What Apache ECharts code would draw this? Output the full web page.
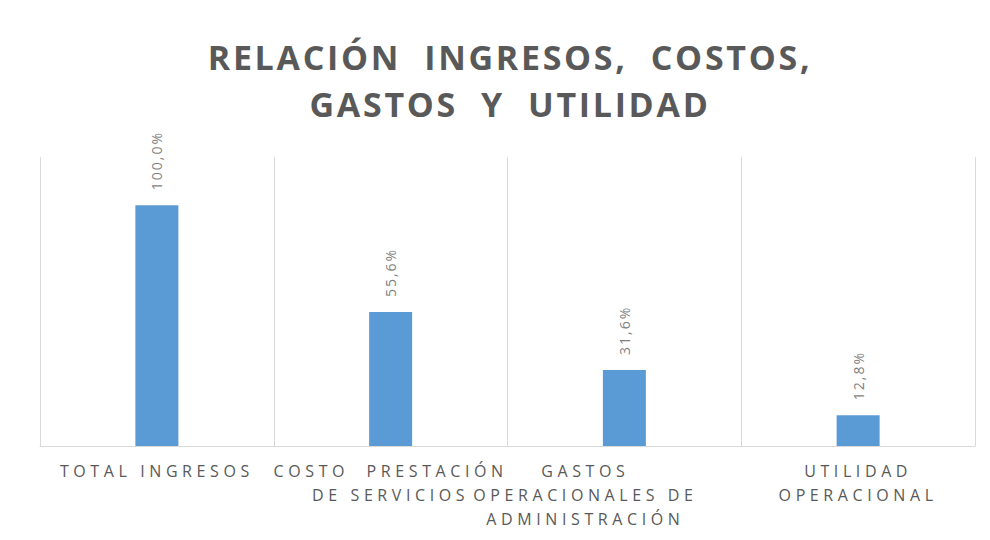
<!DOCTYPE html>
<html>
<head>
<meta charset="utf-8">
<script src="https://cdn.jsdelivr.net/npm/echarts@6/dist/echarts.min.js"></script>
<style>
  html, body { margin: 0; padding: 0; background: #fff; }
  #main { width: 990px; height: 540px; }
  /* espaciado de letras como en el original (solo funciona con render svg) */
  #main text[style*="ttl"], #main text[font-family*="ttl"] { letter-spacing: 2.7px; }
  #main text[style*="cat"], #main text[font-family*="cat"] { letter-spacing: 4.6px; }
  #main text[style*="val"], #main text[font-family*="val"] { letter-spacing: 2px; }
</style>
</head>
<body>
<div id="main"></div>
<script>
// datos
let categorias = [
  'TOTAL INGRESOS',
  'COSTO  PRESTACIÓN\nDE SERVICIOS',
  'GASTOS\nOPERACIONALES DE\nADMINISTRACIÓN',
  'UTILIDAD\nOPERACIONAL'
];
let porcentajes = [100.0, 55.6, 31.6, 12.8];
let titulo = 'RELACIÓN  INGRESOS,  COSTOS,\nGASTOS  Y  UTILIDAD';

let chart = echarts.init(document.getElementById('main'), null, { renderer: 'svg' });

let xdata = categorias.map(function (c, i) {
  if (i == 2) {
    // excel lo corre un poco a la izquierda
    return { value: c, textStyle: { padding: [0, 78, 0, 0] } };
  }
  return c;
});

const option = {
  backgroundColor: '#ffffff',
  animation: false,
  title: {
    text: titulo,
    left: 505,
    textAlign: 'center',
    top: 28,
    textStyle: {
      fontFamily: '"Open Sans", ttl',
      fontSize: 34,
      fontWeight: 'bold',
      color: '#595959',
      lineHeight: 47,
      align: 'center'
    }
  },
  grid: {
    left: 40,
    right: 15,
    top: 157,
    bottom: 94
  },
  xAxis: {
    type: 'category',
    data: xdata,
    axisLine: { lineStyle: { color: '#d9d9d9', width: 1 } },
    axisTick: { show: false },
    splitLine: { show: true, lineStyle: { color: '#d9d9d9', width: 1 } },
    axisLabel: {
      interval: 0,
      margin: 13,
      color: '#595959',
      fontFamily: '"Open Sans", cat',
      fontSize: 16,
      lineHeight: 24
    }
  },
  yAxis: {
    type: 'value',
    min: 0,
    max: 120,
    show: false,
    splitLine: { show: false }
  },
  series: [
    {
      type: 'bar',
      data: porcentajes,
      barWidth: 43,
      itemStyle: { color: '#5b9bd5' },
      label: {
        show: true,
        position: 'top',
        rotate: 90,
        align: 'left',
        verticalAlign: 'middle',
        distance: 15,
        color: '#7f7f7f',
        fontFamily: '"Open Sans", val',
        fontSize: 14,
        formatter: function (p) {
          return p.value.toFixed(1).replace('.', ',') + '%';
        }
      }
    }
  ]
};
chart.setOption(option);
</script>
</body>
</html>
